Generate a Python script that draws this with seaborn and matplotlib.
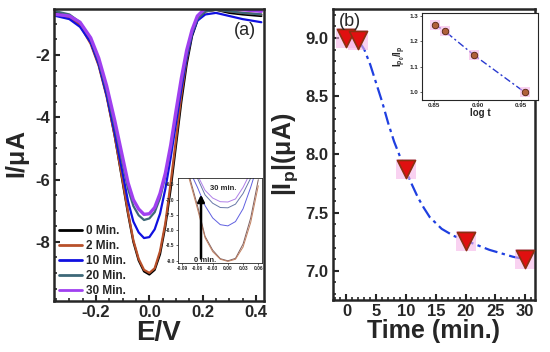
import numpy as np
import pandas as pd
import seaborn as sns
import matplotlib
matplotlib.use('Agg')
import matplotlib.pyplot as plt

# ---- panel (a): DPV curves ----
E = [-0.35, -0.30, -0.26, -0.22, -0.19, -0.16, -0.13, -0.10, -0.08, -0.06, -0.04, -0.02, 0.00,
     0.02, 0.04, 0.06, 0.08, 0.10, 0.12, 0.14, 0.16, 0.18, 0.21, 0.25, 0.30, 0.35, 0.42]
I_0 = [-0.65, -0.75, -1.0, -1.6, -2.3, -3.3, -4.6, -6.1, -7.1, -8.0, -8.6, -8.95, -9.05,
       -8.9, -8.4, -7.5, -6.3, -4.9, -3.5, -2.3, -1.4, -0.9, -0.6, -0.55, -0.65, -0.7, -0.75]
I_2 = [-0.7, -0.8, -1.05, -1.65, -2.35, -3.35, -4.6, -6.05, -7.05, -7.95, -8.55, -8.9, -9.0,
       -8.85, -8.3, -7.4, -6.1, -4.7, -3.3, -2.15, -1.3, -0.85, -0.6, -0.55, -0.6, -0.65, -0.7]
I_10 = [-0.75, -0.85, -1.1, -1.6, -2.3, -3.3, -4.5, -5.8, -6.7, -7.35, -7.7, -7.88, -7.85,
        -7.6, -7.1, -6.3, -5.3, -4.2, -3.1, -2.1, -1.35, -0.9, -0.7, -0.65, -0.75, -0.85, -0.95]
I_20 = [-0.6, -0.7, -0.95, -1.5, -2.2, -3.15, -4.3, -5.5, -6.3, -6.85, -7.15, -7.3, -7.25,
        -7.05, -6.6, -5.9, -5.0, -3.95, -2.9, -2.0, -1.3, -0.85, -0.6, -0.55, -0.6, -0.65, -0.7]
I_30 = [-0.7, -0.75, -0.95, -1.45, -2.1, -3.0, -4.1, -5.3, -6.1, -6.65, -6.95, -7.12, -7.1,
        -6.9, -6.45, -5.8, -4.9, -3.8, -2.75, -1.85, -1.2, -0.75, -0.5, -0.45, -0.5, -0.55, -0.6]
labels_a = ['0 Min.', '2 Min.', '10 Min.', '20 Min.', '30 Min.']
colors_a = ['#000000', '#b8502a', '#1010e0', '#3d6878', '#a040f0']

# inset (a): zoom on the peak bottoms
E_in = [-0.08, -0.06, -0.045, -0.03, -0.015, 0.0, 0.015, 0.03, 0.045, 0.06]
Iin_0 = [-6.0, -7.2, -8.2, -8.65, -8.93, -9.0, -8.92, -8.45, -7.6, -6.35]
Iin_2 = [-6.1, -7.3, -8.25, -8.7, -8.95, -9.02, -8.95, -8.55, -7.75, -6.55]
Iin_10 = [-5.9, -6.6, -7.2, -7.6, -7.82, -7.86, -7.72, -7.3, -6.6, -5.8]
Iin_20 = [-5.6, -6.3, -6.85, -7.12, -7.26, -7.27, -7.15, -6.8, -6.3, -5.6]
Iin_30 = [-5.5, -6.2, -6.7, -6.95, -7.07, -7.08, -6.98, -6.6, -6.1, -5.5]
colors_in = ['#806060', '#c08060', '#6060e0', '#6878a8', '#b080e8']

# ---- panel (b): peak current vs time ----
t = [0, 2, 10, 20, 30]
Ip = [9.0, 8.98, 7.87, 7.26, 7.10]
t_fit = [2, 3, 4, 5, 6, 7, 8, 9, 10, 11, 12, 13, 14, 16, 18, 20, 22, 24, 26, 28, 30]
Ip_fit = [8.98, 8.90, 8.77, 8.61, 8.45, 8.27, 8.11, 7.98, 7.86, 7.74, 7.63, 7.54, 7.46,
          7.36, 7.30, 7.26, 7.22, 7.18, 7.15, 7.12, 7.10]

# inset (b)
logt = [0.851, 0.862, 0.896, 0.954]
ratio = [1.265, 1.24, 1.145, 1.0]

sns.set_style('ticks')
plt.rcParams['font.family'] = ['Liberation Sans', 'DejaVu Sans']
plt.rcParams['font.weight'] = 'bold'
plt.rcParams['axes.unicode_minus'] = False
plt.rcParams['mathtext.fontset'] = 'custom'
plt.rcParams['mathtext.rm'] = 'Liberation Sans:bold'
plt.rcParams['mathtext.it'] = 'Liberation Sans:bold'
plt.rcParams['mathtext.bf'] = 'Liberation Sans:bold'

df_a = pd.concat([pd.DataFrame({'E': E, 'I': vals, 'time': lab})
                  for vals, lab in zip([I_0, I_2, I_10, I_20, I_30], labels_a)])
df_in = pd.concat([pd.DataFrame({'E': E_in, 'I': vals, 'time': lab})
                   for vals, lab in zip([Iin_0, Iin_2, Iin_10, Iin_20, Iin_30], labels_a)])
pal = dict(zip(labels_a, colors_a))

fig = plt.figure(figsize=(5.5, 3.52), dpi=100)
ax1 = fig.add_axes([0.098, 0.145, 0.382, 0.829])
ax2 = fig.add_axes([0.605, 0.148, 0.367, 0.827])

sns.lineplot(data=df_a, x='E', y='I', hue='time', palette=pal, sort=False,
             linewidth=1.6, ax=ax1)
for ln in ax1.lines:
    if ln.get_color() == '#a040f0':
        ln.set_linewidth(2.4)
ax1.set_xlim(-0.358, 0.43)
ax1.set_ylim(-9.9, -0.53)
ax1.set_xticks([-0.2, 0.0, 0.2, 0.4])
ax1.set_yticks([-2, -4, -6, -8])
ax1.set_xlabel('E/V', fontsize=20, fontweight='bold', labelpad=0)
ax1.set_ylabel('I/$\\mu$A', fontsize=18, fontweight='bold', labelpad=2)
ax1.text(0.96, 0.955, '(a)', transform=ax1.transAxes, ha='right', va='top',
         fontsize=13, fontweight='normal')
leg = ax1.legend(loc='lower left', bbox_to_anchor=(-0.01, -0.01), frameon=False,
                 handlelength=2.0, handletextpad=0.3, labelspacing=0.25,
                 borderaxespad=0.2, prop={'weight': 'bold', 'size': 8.5})
for h in leg.get_lines():
    h.set_linewidth(2.0)

# inset (a)
axi = fig.add_axes([0.324, 0.253, 0.153, 0.241])
sns.lineplot(data=df_in, x='E', y='I', hue='time', palette=dict(zip(labels_a, colors_in)),
             sort=False, linewidth=0.7, legend=False, ax=axi)
axi.set_xlim(-0.098, 0.068)
axi.set_ylim(-9.07, -6.3)
axi.set_xticks([-0.09, -0.06, -0.03, 0.0, 0.03, 0.06])
axi.set_xticklabels(['-0.09', '-0.06', '-0.03', '0.00', '0.03', '0.06'])
axi.set_yticks([-6.5, -7.0, -7.5, -8.0, -8.5, -9.0])
axi.tick_params(labelsize=3.5, length=1.5, width=0.5, pad=1)
axi.set_xlabel('')
axi.set_ylabel('')
for s in axi.spines.values():
    s.set_linewidth(0.6)
axi.annotate('', xy=(-0.053, -6.75), xytext=(-0.053, -9.02),
             arrowprops=dict(arrowstyle='-|>', color='black', lw=1.8, mutation_scale=10))
axi.text(-0.036, -6.7, '30 min.', fontsize=5.5, fontweight='bold')
axi.text(-0.066, -9.04, '0 min.', fontsize=5.5, fontweight='bold')

# panel (b)
sns.lineplot(x=t_fit, y=Ip_fit, color='#1f3fe0', linestyle=(0, (6, 2, 1.5, 2)),
             linewidth=1.6, ax=ax2)
ax2.scatter(t, Ip, marker='s', s=190, color='#f6b4e8', alpha=0.6, linewidths=0, zorder=2)
sns.scatterplot(x=t, y=Ip, marker='v', s=170, color='#e01010', edgecolor='#8a3010',
                linewidth=1.2, zorder=3, ax=ax2)
ax2.set_xlim(-2.3, 31.6)
ax2.set_ylim(6.75, 9.25)
ax2.set_xticks([0, 5, 10, 15, 20, 25, 30])
ax2.set_yticks([7.0, 7.5, 8.0, 8.5, 9.0])
ax2.set_yticklabels(['7.0', '7.5', '8.0', '8.5', '9.0'])
ax2.set_xlabel('Time (min.)', fontsize=18, fontweight='bold', labelpad=0)
ax2.set_ylabel('|I$_\\mathbf{p}$|($\\mu$A)', fontsize=18, fontweight='bold', labelpad=4)
ax2.text(0.03, 0.985, '(b)', transform=ax2.transAxes, ha='left', va='top',
         fontsize=13, fontweight='normal')

# inset (b)
axj = fig.add_axes([0.767, 0.716, 0.211, 0.247])
sns.lineplot(x=logt, y=ratio, color='#2a3ad0', linestyle=(0, (5, 2, 1.5, 2)),
             linewidth=1.0, ax=axj)
axj.scatter(logt, ratio, marker='s', s=45, color='#f6b4e8', alpha=0.6, linewidths=0, zorder=2)
sns.scatterplot(x=logt, y=ratio, marker='o', s=22, color='#b0603a', edgecolor='#502010',
                linewidth=0.6, zorder=3, ax=axj)
axj.set_xlim(0.836, 0.969)
axj.set_ylim(0.97, 1.31)
axj.set_xticks([0.85, 0.90, 0.95])
axj.set_yticks([1.0, 1.1, 1.2, 1.3])
axj.tick_params(labelsize=4.5, length=1.5, width=0.5, pad=1)
axj.set_xlabel('log t', fontsize=7, fontweight='bold', labelpad=0)
axj.set_ylabel('I$_\\mathrm{p_0}$/I$_\\mathrm{p}$', fontsize=7, fontweight='bold', labelpad=1)
for s in axj.spines.values():
    s.set_linewidth(0.8)

for ax in (ax1, ax2):
    for s in ax.spines.values():
        s.set_linewidth(1.8)
    ax.tick_params(labelsize=12, width=1.5, length=4, direction='in', pad=3)
    ax.tick_params(which='minor', width=1.2, length=2.5, direction='in')
    ax.minorticks_on()

fig.savefig('out.png', dpi=100)
